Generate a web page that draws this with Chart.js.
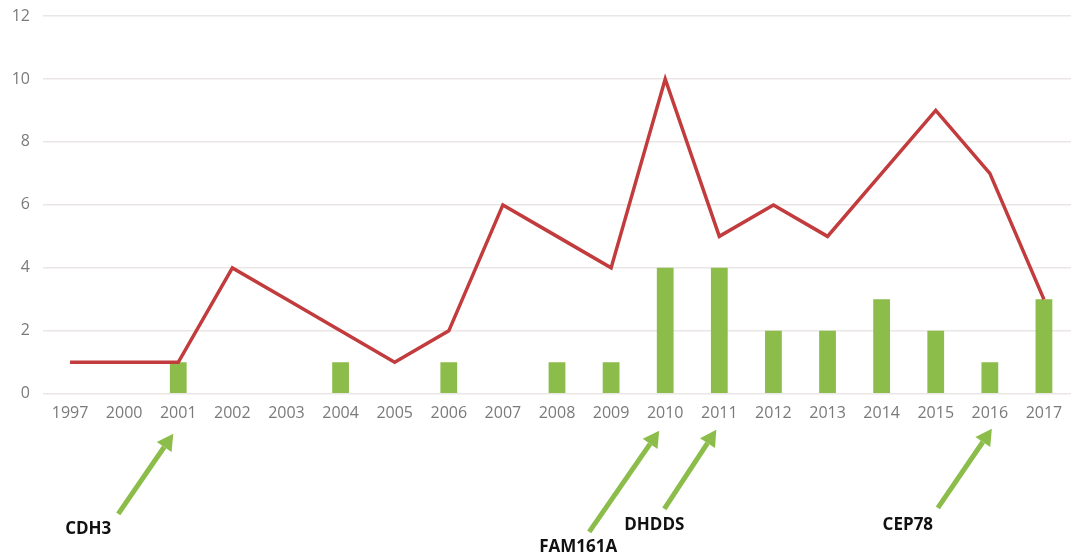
<!DOCTYPE html>
<html>
<head>
<meta charset="utf-8">
<script src="https://cdn.jsdelivr.net/npm/chart.js@4/dist/chart.umd.min.js"></script>
<style>
  html, body { margin: 0; padding: 0; background: #fff; }
  #wrap { width: 1075px; height: 557px; position: relative; }
</style>
</head>
<body>
<div id="wrap"><canvas id="c"></canvas></div>
<script>
// Years on the category axis
const years = ['1997','2000','2001','2002','2003','2004','2005','2006','2007','2008',
               '2009','2010','2011','2012','2013','2014','2015','2016','2017'];
// Red line series
const lineValues = [1,1,1,4,3,2,1,2,6,5,4,10,5,6,5,7,9,7,3];
// Green bar series
const barValues  = [0,0,1,0,0,1,0,1,0,1,1,4,4,2,2,3,2,1,3];
// Value-axis ticks
const yTicks = [0,2,4,6,8,10,12];
// Gene names pointed at by arrows, and the year each one points to
const genes     = ['CDH3','FAM161A','DHDDS','CEP78'];
const geneYears = ['2001','2010','2011','2016'];

const GREEN = '#8cbd4a';
const RED = '#c23b3d';

// Arrow geometry relative to the pointed-at year's tick: [tipDx, tipDy, tailDx, tailDy, labelDx, labelDy]
const arrowShape = {
  'CDH3':    [-5, 40, -60, 120, -90, 135],
  'FAM161A': [-6, 37, -76, 138, -87, 153],
  'DHDDS':   [-3, 36, -55, 115, -65, 131],
  'CEP78':   [ 2, 35, -52, 114, -82, 131]
};

const geneArrows = {
  id: 'geneArrows',
  afterDraw(chart) {
    const ctx = chart.ctx;
    const xs = chart.scales.x;
    const base = chart.chartArea.bottom;
    ctx.save();
    genes.forEach((g, i) => {
      const cx = xs.getPixelForValue(years.indexOf(geneYears[i]));
      const s = arrowShape[g];
      const tx = cx + s[0], ty = base + s[1];
      const bx = cx + s[2], by = base + s[3];
      const ang = Math.atan2(ty - by, tx - bx);
      const headLen = 16, headW = 9;
      const hx = tx - headLen * Math.cos(ang), hy = ty - headLen * Math.sin(ang);
      ctx.strokeStyle = GREEN;
      ctx.fillStyle = GREEN;
      ctx.lineWidth = 5;
      ctx.lineCap = 'butt';
      ctx.beginPath();
      ctx.moveTo(bx, by);
      ctx.lineTo(hx, hy);
      ctx.stroke();
      ctx.beginPath();
      ctx.moveTo(tx, ty);
      ctx.lineTo(hx + headW * Math.sin(ang), hy - headW * Math.cos(ang));
      ctx.lineTo(hx - headW * Math.sin(ang), hy + headW * Math.cos(ang));
      ctx.closePath();
      ctx.fill();
      ctx.fillStyle = '#111';
      ctx.font = 'bold 17px "Open Sans", sans-serif';
      ctx.textAlign = 'center';
      ctx.textBaseline = 'middle';
      ctx.fillText(g, cx + s[4], base + s[5]);
    });
    ctx.restore();
  }
};

new Chart(document.getElementById('c'), {
  data: {
    labels: years,
    datasets: [
      {
        type: 'line',
        data: lineValues,
        borderColor: RED,
        borderWidth: 3.5,
        pointRadius: 0,
        tension: 0,
        order: 0
      },
      {
        type: 'bar',
        data: barValues,
        backgroundColor: GREEN,
        barPercentage: 0.31,
        categoryPercentage: 1.0,
        order: 1
      }
    ]
  },
  options: {
    responsive: true,
    maintainAspectRatio: false,
    animation: false,
    layout: { padding: { top: 16, right: 4, bottom: 124, left: 0 } },
    plugins: { legend: { display: false }, tooltip: { enabled: false } },
    scales: {
      x: {
        grid: { display: false, drawTicks: false },
        border: { display: false },
        ticks: { color: '#7a7a7a', font: { family: '"Open Sans", sans-serif', size: 16 }, padding: 10, maxRotation: 0, autoSkip: false }
      },
      y: {
        min: 0, max: 12,
        afterBuildTicks(axis) { axis.ticks = yTicks.map(v => ({ value: v })); },
        afterFit(axis) { axis.width = 43; axis.paddingTop = 0; axis.paddingBottom = 0; },
        grid: { color: '#ebe6e6', lineWidth: 1.5, drawTicks: false },
        border: { display: false },
        ticks: { color: '#7a7a7a', font: { family: '"Open Sans", sans-serif', size: 16 }, padding: 13 }
      }
    }
  },
  plugins: [geneArrows]
});
</script>
</body>
</html>
